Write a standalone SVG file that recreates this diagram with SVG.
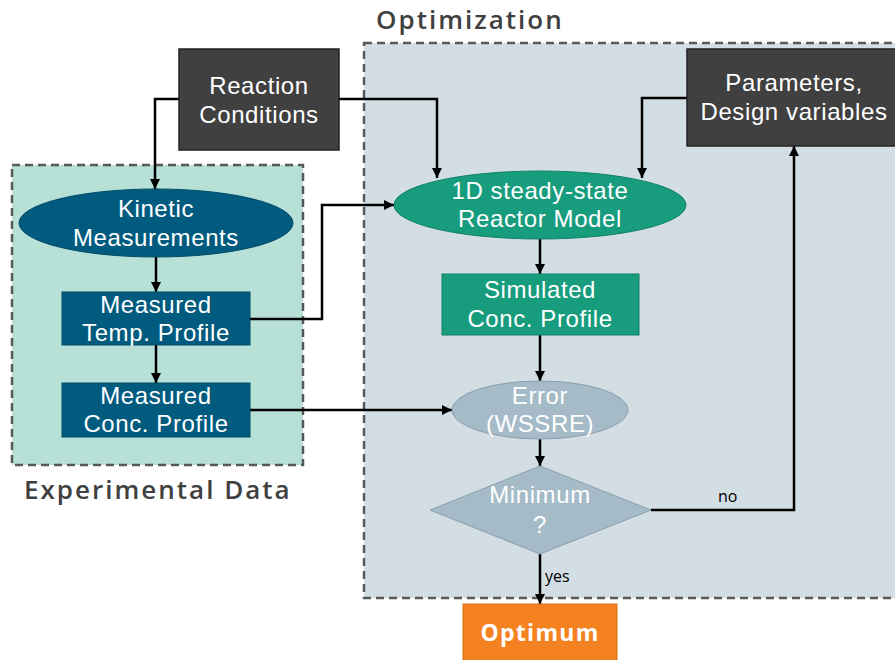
<svg xmlns="http://www.w3.org/2000/svg" width="895" height="660" viewBox="0 0 895 660">
<defs>
<marker id="ah" viewBox="0 0 10 10" refX="10" refY="5" markerWidth="10" markerHeight="10" markerUnits="userSpaceOnUse" orient="auto">
<path d="M0,0 L10,5 L0,10 z" fill="#000"/>
</marker>
<style>
.t{font-family:"Liberation Sans",Arial,sans-serif;font-size:24px;letter-spacing:0.6px;fill:#fff;text-anchor:middle}
.title{font-family:"Open Sans","Noto Sans",sans-serif;font-size:26px;font-weight:600;fill:#404040;letter-spacing:2px}
.lbl{font-family:"Open Sans","Noto Sans",sans-serif;font-size:16px;fill:#000}
.c{fill:none;stroke:#000;stroke-width:2.5;marker-end:url(#ah)}
.grp{stroke:#595959;stroke-width:2.5;stroke-dasharray:8 5}
</style>
</defs>
<g id="optimization-group">
<rect class="grp" x="364" y="43" width="545" height="555" fill="#d3dde4"/>
<text class="title" x="376" y="29">Optimization</text>
</g>
<g id="experimental-group">
<rect class="grp" x="12" y="165" width="291" height="300" fill="#b7e0d7"/>
<text class="title" x="24" y="499">Experimental Data</text>
</g>
<g id="connectors">
<path class="c" d="M179,99 H155 V189"/>
<path class="c" d="M339,99 H437 V178"/>
<path class="c" d="M687,98 H642 V178"/>
<path class="c" d="M156,257 V292"/>
<path class="c" d="M250,319 H322 V205 H394"/>
<path class="c" d="M156,345 V383"/>
<path class="c" d="M250,410 H452"/>
<path class="c" d="M540,238 V274"/>
<path class="c" d="M540,335 V381"/>
<path class="c" d="M540,439 V466"/>
<path class="c" d="M651,510 H794 V146"/>
<path class="c" d="M540,554 V604"/>
<text class="lbl" x="718" y="502">no</text>
<text class="lbl" x="545" y="582">yes</text>
</g>
<g id="reaction-conditions">
<rect x="179" y="49" width="160" height="101" fill="#404040" stroke="#222" stroke-width="1.5"/>
<text class="t" x="259" y="94">Reaction</text>
<text class="t" x="259" y="123">Conditions</text>
</g>
<g id="parameters">
<rect x="687" y="49" width="220" height="97" fill="#404040" stroke="#222" stroke-width="1.5"/>
<text class="t" x="794" y="91">Parameters,</text>
<text class="t" x="794" y="120">Design variables</text>
</g>
<g id="kinetic-measurements">
<ellipse cx="156" cy="223" rx="137" ry="34" fill="#005b7f" stroke="#004a66" stroke-width="1"/>
<text class="t" x="156" y="217">Kinetic</text>
<text class="t" x="156" y="246">Measurements</text>
</g>
<g id="measured-temp">
<rect x="62" y="292" width="188" height="53" fill="#005b7f" stroke="#004a66" stroke-width="1"/>
<text class="t" x="156" y="313">Measured</text>
<text class="t" x="156" y="341">Temp. Profile</text>
</g>
<g id="measured-conc">
<rect x="62" y="383" width="188" height="54" fill="#005b7f" stroke="#004a66" stroke-width="1"/>
<text class="t" x="156" y="404">Measured</text>
<text class="t" x="156" y="432">Conc. Profile</text>
</g>
<g id="reactor-model">
<ellipse cx="540" cy="205" rx="146" ry="34" fill="#179c7d" stroke="#128068" stroke-width="1"/>
<text class="t" x="540" y="199">1D steady-state</text>
<text class="t" x="540" y="227">Reactor Model</text>
</g>
<g id="simulated-conc">
<rect x="442" y="274" width="197" height="61" fill="#179c7d" stroke="#128068" stroke-width="1"/>
<text class="t" x="540" y="298">Simulated</text>
<text class="t" x="540" y="327">Conc. Profile</text>
</g>
<g id="error">
<ellipse cx="540" cy="410" rx="88" ry="29" fill="#a5bbc7" stroke="#8aa0ac" stroke-width="1"/>
<text class="t" x="540" y="404">Error</text>
<text class="t" x="540" y="432">(WSSRE)</text>
</g>
<g id="minimum">
<polygon points="540,466 651,510 540,554 430,510" fill="#a5bbc7" stroke="#8aa0ac" stroke-width="1"/>
<text class="t" x="540" y="503">Minimum</text>
<text class="t" x="540" y="533">?</text>
</g>
<g id="optimum">
<rect x="463" y="604" width="154" height="60" fill="#f58220" stroke="#d86e10" stroke-width="1"/>
<text x="540" y="641" style="font-family:'Open Sans','Noto Sans',sans-serif;fill:#fff;text-anchor:middle;font-weight:700;font-size:23px;letter-spacing:1.3px">Optimum</text>
</g>
</svg>
